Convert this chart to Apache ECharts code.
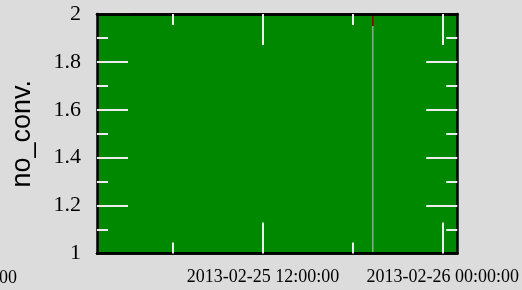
<!DOCTYPE html>
<html>
<head>
<meta charset="utf-8">
<script src="https://cdn.jsdelivr.net/npm/echarts@6/dist/echarts.min.js"></script>
<style>
  html, body { margin: 0; padding: 0; background: #dcdcdc; }
  #main { width: 522px; height: 290px; }
</style>
</head>
<body>
<div id="main"></div>
<script>
// data
var axisMinTime = '2013-02-25 00:55';
var axisMaxTime = '2013-02-26 00:58';
var majorTickTimes = ['2013-02-25 12:00', '2013-02-26 00:00'];
var minorTickTimes = ['2013-02-25 06:00', '2013-02-25 18:00'];
var yTicks = [1.2, 1.4, 1.6, 1.8];
// no_conv. stays at 2, one drop at about 19:20
var lineTimes = ['2013-02-25 03:10', '2013-02-25 19:20', '2013-02-25 19:20', '2013-02-25 19:20', '2013-02-26 00:58'];
var lineValues = [2, 2, 1.95, 2, 2];
var dropTimes = ['2013-02-25 19:20', '2013-02-25 19:20'];
var dropValues = [1.95, 1];

// "YYYY-MM-DD HH:mm" -> UTC ms
function toMs(s) {
    var p = s.split(/[- :]/);
    return Date.UTC(+p[0], +p[1] - 1, +p[2], +p[3], +p[4]);
}
function pad(n) { return (n < 10 ? '0' : '') + n; }
function fmt(v) {
    var d = new Date(v);
    return d.getUTCFullYear() + '-' + pad(d.getUTCMonth() + 1) + '-' + pad(d.getUTCDate()) +
        ' ' + pad(d.getUTCHours()) + ':' + pad(d.getUTCMinutes()) + ':' + pad(d.getUTCSeconds());
}
function pairs(ts, vs) {
    return ts.map(function (t, i) { return [toMs(t), vs[i]]; });
}

var tMin = toMs(axisMinTime), tMax = toMs(axisMaxTime);
var majors = majorTickTimes.map(toMs);
var minors = minorTickTimes.map(toMs);

var tickStyle = { color: '#ececec', width: 2 };
var border = { show: true, lineStyle: { color: '#000', width: 2.5 } };

function xAx(pos, ticks, len, labels) {
    return {
        type: 'value', position: pos, min: tMin, max: tMax, z: 5,
        axisLine: border,
        splitLine: { show: false },
        axisTick: { show: true, inside: true, length: len, customValues: ticks, lineStyle: tickStyle },
        axisLabel: labels ? {
            show: true, customValues: ticks, formatter: fmt, margin: 15,
            fontFamily: 'Liberation Serif', fontSize: 18, color: '#000'
        } : { show: false }
    };
}
function yAx(pos, labels) {
    var a = {
        type: 'value', position: pos, min: 1, max: 2, interval: 0.2, z: 5,
        axisLine: border,
        splitLine: { show: false },
        axisTick: { show: true, inside: true, length: 31, customValues: yTicks, lineStyle: tickStyle },
        minorTick: { show: true, splitNumber: 2, length: 11, lineStyle: tickStyle },
        axisLabel: labels ? {
            show: true, margin: 16, fontFamily: 'Liberation Serif', fontSize: 22, color: '#000'
        } : { show: false }
    };
    if (labels) {
        a.name = 'no_conv.';
        a.nameLocation = 'middle';
        a.nameRotate = 90;
        a.nameGap = 61;
        a.nameTextStyle = { fontFamily: 'Liberation Sans', fontSize: 27, color: '#000' };
    }
    return a;
}

var chart = echarts.init(document.getElementById('main'));
chart.setOption({
    backgroundColor: '#dcdcdc',
    animation: false,
    grid: {
        left: 97, top: 14, right: 57, bottom: 36.5,
        show: true, backgroundColor: '#008800', borderWidth: 0
    },
    xAxis: [
        xAx('bottom', majors, 31, true),
        xAx('bottom', minors, 11, false),
        xAx('top', majors, 31, false),
        xAx('top', minors, 11, false)
    ],
    yAxis: [yAx('left', true), yAx('right', false)],
    graphic: [{
        type: 'text', right: 505, top: 269,
        style: { text: '2013-02-25 00:00:00', font: '18px "Liberation Serif"', fill: '#000' }
    }],
    series: [{
        type: 'line', data: pairs(lineTimes, lineValues), showSymbol: false,
        lineStyle: { width: 1.5, color: '#8b0000' }
    }, {
        type: 'line', data: pairs(dropTimes, dropValues), showSymbol: false,
        lineStyle: { width: 1, color: '#b4cdb4' }
    }]
});
</script>
</body>
</html>
